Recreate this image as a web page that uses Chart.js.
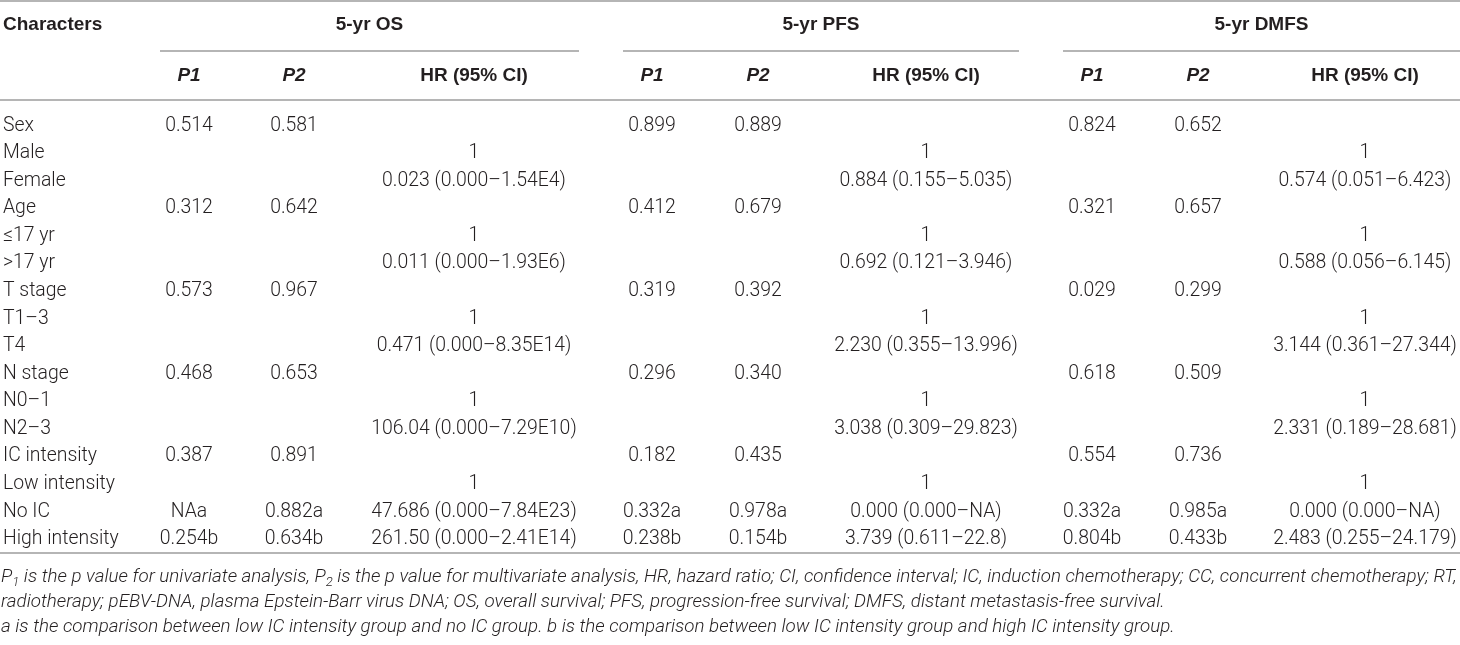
<!DOCTYPE html>
<html>
<head>
<meta charset="utf-8">
<script src="https://cdn.jsdelivr.net/npm/chart.js@4.4.1/dist/chart.umd.min.js"></script>
<style>
  html, body { margin: 0; padding: 0; background: #fff; }
  #caixa { width: 1460px; height: 645px; }
</style>
</head>
<body>
<div id="caixa"><canvas id="tabela"></canvas></div>
<script>
// Dados da tabela
const characters = ['Sex', 'Male', 'Female', 'Age', '≤17 yr', '>17 yr', 'T stage', 'T1–3', 'T4',
  'N stage', 'N0–1', 'N2–3', 'IC intensity', 'Low intensity', 'No IC', 'High intensity'];

const osP1 = ['0.514', '', '', '0.312', '', '', '0.573', '', '', '0.468', '', '', '0.387', '', 'NAa', '0.254b'];
const osP2 = ['0.581', '', '', '0.642', '', '', '0.967', '', '', '0.653', '', '', '0.891', '', '0.882a', '0.634b'];
const osHR = ['', '1', '0.023 (0.000–1.54E4)', '', '1', '0.011 (0.000–1.93E6)', '', '1', '0.471 (0.000–8.35E14)',
  '', '1', '106.04 (0.000–7.29E10)', '', '1', '47.686 (0.000–7.84E23)', '261.50 (0.000–2.41E14)'];

const pfsP1 = ['0.899', '', '', '0.412', '', '', '0.319', '', '', '0.296', '', '', '0.182', '', '0.332a', '0.238b'];
const pfsP2 = ['0.889', '', '', '0.679', '', '', '0.392', '', '', '0.340', '', '', '0.435', '', '0.978a', '0.154b'];
const pfsHR = ['', '1', '0.884 (0.155–5.035)', '', '1', '0.692 (0.121–3.946)', '', '1', '2.230 (0.355–13.996)',
  '', '1', '3.038 (0.309–29.823)', '', '1', '0.000 (0.000–NA)', '3.739 (0.611–22.8)'];

const dmfsP1 = ['0.824', '', '', '0.321', '', '', '0.029', '', '', '0.618', '', '', '0.554', '', '0.332a', '0.804b'];
const dmfsP2 = ['0.652', '', '', '0.657', '', '', '0.299', '', '', '0.509', '', '', '0.736', '', '0.985a', '0.433b'];
const dmfsHR = ['', '1', '0.574 (0.051–6.423)', '', '1', '0.588 (0.056–6.145)', '', '1', '3.144 (0.361–27.344)',
  '', '1', '2.331 (0.189–28.681)', '', '1', '0.000 (0.000–NA)', '2.483 (0.255–24.179)'];

const grupos = ['5-yr OS', '5-yr PFS', '5-yr DMFS'];
const subtitulos = ['P1', 'P2', 'HR (95% CI)'];
const tituloLinhas = 'Characters';

const notas = [
  [['P', ''], ['1', 'sub'], [' is the p value for univariate analysis, ', ''], ['P', ''], ['2', 'sub'],
   [' is the p value for multivariate analysis, HR, hazard ratio; CI, confidence interval; IC, induction chemotherapy; CC, concurrent chemotherapy; RT,', '']],
  [['radiotherapy; pEBV-DNA, plasma Epstein-Barr virus DNA; OS, overall survival; PFS, progression-free survival; DMFS, distant metastasis-free survival.', '']],
  [['a is the comparison between low IC intensity group and no IC group. b is the comparison between low IC intensity group and high IC intensity group.', '']]
];

// Layout (posições das colunas no eixo x, 0..1460)
const LARGURA = 1460;
const colunas = [
  { valores: osP1, x: 189 }, { valores: osP2, x: 294 }, { valores: osHR, x: 474 },
  { valores: pfsP1, x: 652 }, { valores: pfsP2, x: 758 }, { valores: pfsHR, x: 926 },
  { valores: dmfsP1, x: 1092 }, { valores: dmfsP2, x: 1198 }, { valores: dmfsHR, x: 1365 }
];
const faixasGrupo = [[160, 579], [623, 1019], [1063, 1460]];

const COR_TEXTO = '#231f20';
const COR_LINHA = '#9d9d9d';
const FONTE_CORPO = '300 19.4px Roboto';
const FONTE_TITULO = 'bold 19px "Liberation Sans"';
const FONTE_SUB = 'italic bold 19px "Liberation Sans"';
const LARGURA_NOTA = 1456;

// Datasets: um por coluna, pontos invisíveis usados para posicionar o texto
const datasets = [{ textos: characters, alinhamento: 'left',
  data: characters.map((c, i) => ({ x: 3, y: i })) }];
colunas.forEach(col => {
  datasets.push({
    textos: col.valores,
    alinhamento: 'center',
    data: col.valores.map((v, i) => ({ x: col.x, y: i }))
  });
});
datasets.forEach(d => { d.pointRadius = 0; d.pointHoverRadius = 0; d.showLine = false; });

function linha(ctx, x1, x2, y) {
  ctx.beginPath();
  ctx.moveTo(x1, y);
  ctx.lineTo(x2, y);
  ctx.stroke();
}

function larguraNota(ctx, partes, tam) {
  let w = 0;
  partes.forEach(([t, tipo]) => {
    ctx.font = 'italic 300 ' + (tipo === 'sub' ? tam * 0.7 : tam) + 'px Roboto';
    w += ctx.measureText(t).width;
  });
  return w;
}

const pluginTabela = {
  id: 'tabela',
  afterDatasetsDraw(chart) {
    const { ctx, chartArea, scales } = chart;
    const xs = scales.x;
    const topo = chartArea.top;
    const base = chartArea.bottom;

    ctx.save();
    ctx.fillStyle = COR_TEXTO;
    ctx.textBaseline = 'middle';

    // Células do corpo
    chart.data.datasets.forEach((ds, d) => {
      const meta = chart.getDatasetMeta(d);
      ctx.font = FONTE_CORPO;
      ctx.textAlign = ds.alinhamento;
      meta.data.forEach((pt, i) => {
        const t = ds.textos[i];
        if (t) ctx.fillText(t, pt.x, pt.y);
      });
    });

    // Cabeçalho
    const yGrupo = topo - 87;
    const ySub = topo - 36;
    ctx.font = FONTE_TITULO;
    ctx.textAlign = 'left';
    ctx.fillText(tituloLinhas, xs.getPixelForValue(3), yGrupo);
    ctx.textAlign = 'center';
    grupos.forEach((g, k) => {
      const [a, b] = faixasGrupo[k];
      ctx.fillText(g, (xs.getPixelForValue(a) + xs.getPixelForValue(b)) / 2, yGrupo);
    });
    colunas.forEach((col, k) => {
      const s = subtitulos[k % 3];
      ctx.font = s.startsWith('P') ? FONTE_SUB : FONTE_TITULO;
      ctx.fillText(s, xs.getPixelForValue(col.x), ySub);
    });

    // Linhas
    ctx.strokeStyle = COR_LINHA;
    ctx.lineWidth = 1.5;
    linha(ctx, 0, LARGURA, topo - 111);
    faixasGrupo.forEach(([a, b]) => linha(ctx, xs.getPixelForValue(a), xs.getPixelForValue(b), topo - 61));
    linha(ctx, 0, LARGURA, topo - 12);
    linha(ctx, 0, LARGURA, base);

    // Notas de rodapé (primeira linha ocupa a largura toda)
    ctx.textAlign = 'left';
    ctx.textBaseline = 'alphabetic';
    const tamNota = 16 * LARGURA_NOTA / larguraNota(ctx, notas[0], 16);
    notas.forEach((partes, n) => {
      let x = 1;
      const y = base + 29 + n * 25;
      partes.forEach(([t, tipo]) => {
        const tam = tipo === 'sub' ? tamNota * 0.7 : tamNota;
        ctx.font = 'italic 300 ' + tam + 'px Roboto';
        ctx.fillText(t, x, tipo === 'sub' ? y + 4 : y);
        x += ctx.measureText(t).width;
      });
    });
    ctx.restore();
  }
};

new Chart(document.getElementById('tabela'), {
  type: 'scatter',
  data: { datasets: datasets },
  options: {
    responsive: true,
    maintainAspectRatio: false,
    animation: false,
    layout: { padding: { top: 112, bottom: 92, left: 0, right: 0 } },
    plugins: { legend: { display: false }, tooltip: { enabled: false } },
    scales: {
      x: { type: 'linear', min: 0, max: LARGURA, display: false },
      y: { type: 'linear', min: -0.5, max: characters.length - 0.5, reverse: true, display: false }
    }
  },
  plugins: [pluginTabela]
});
</script>
</body>
</html>
